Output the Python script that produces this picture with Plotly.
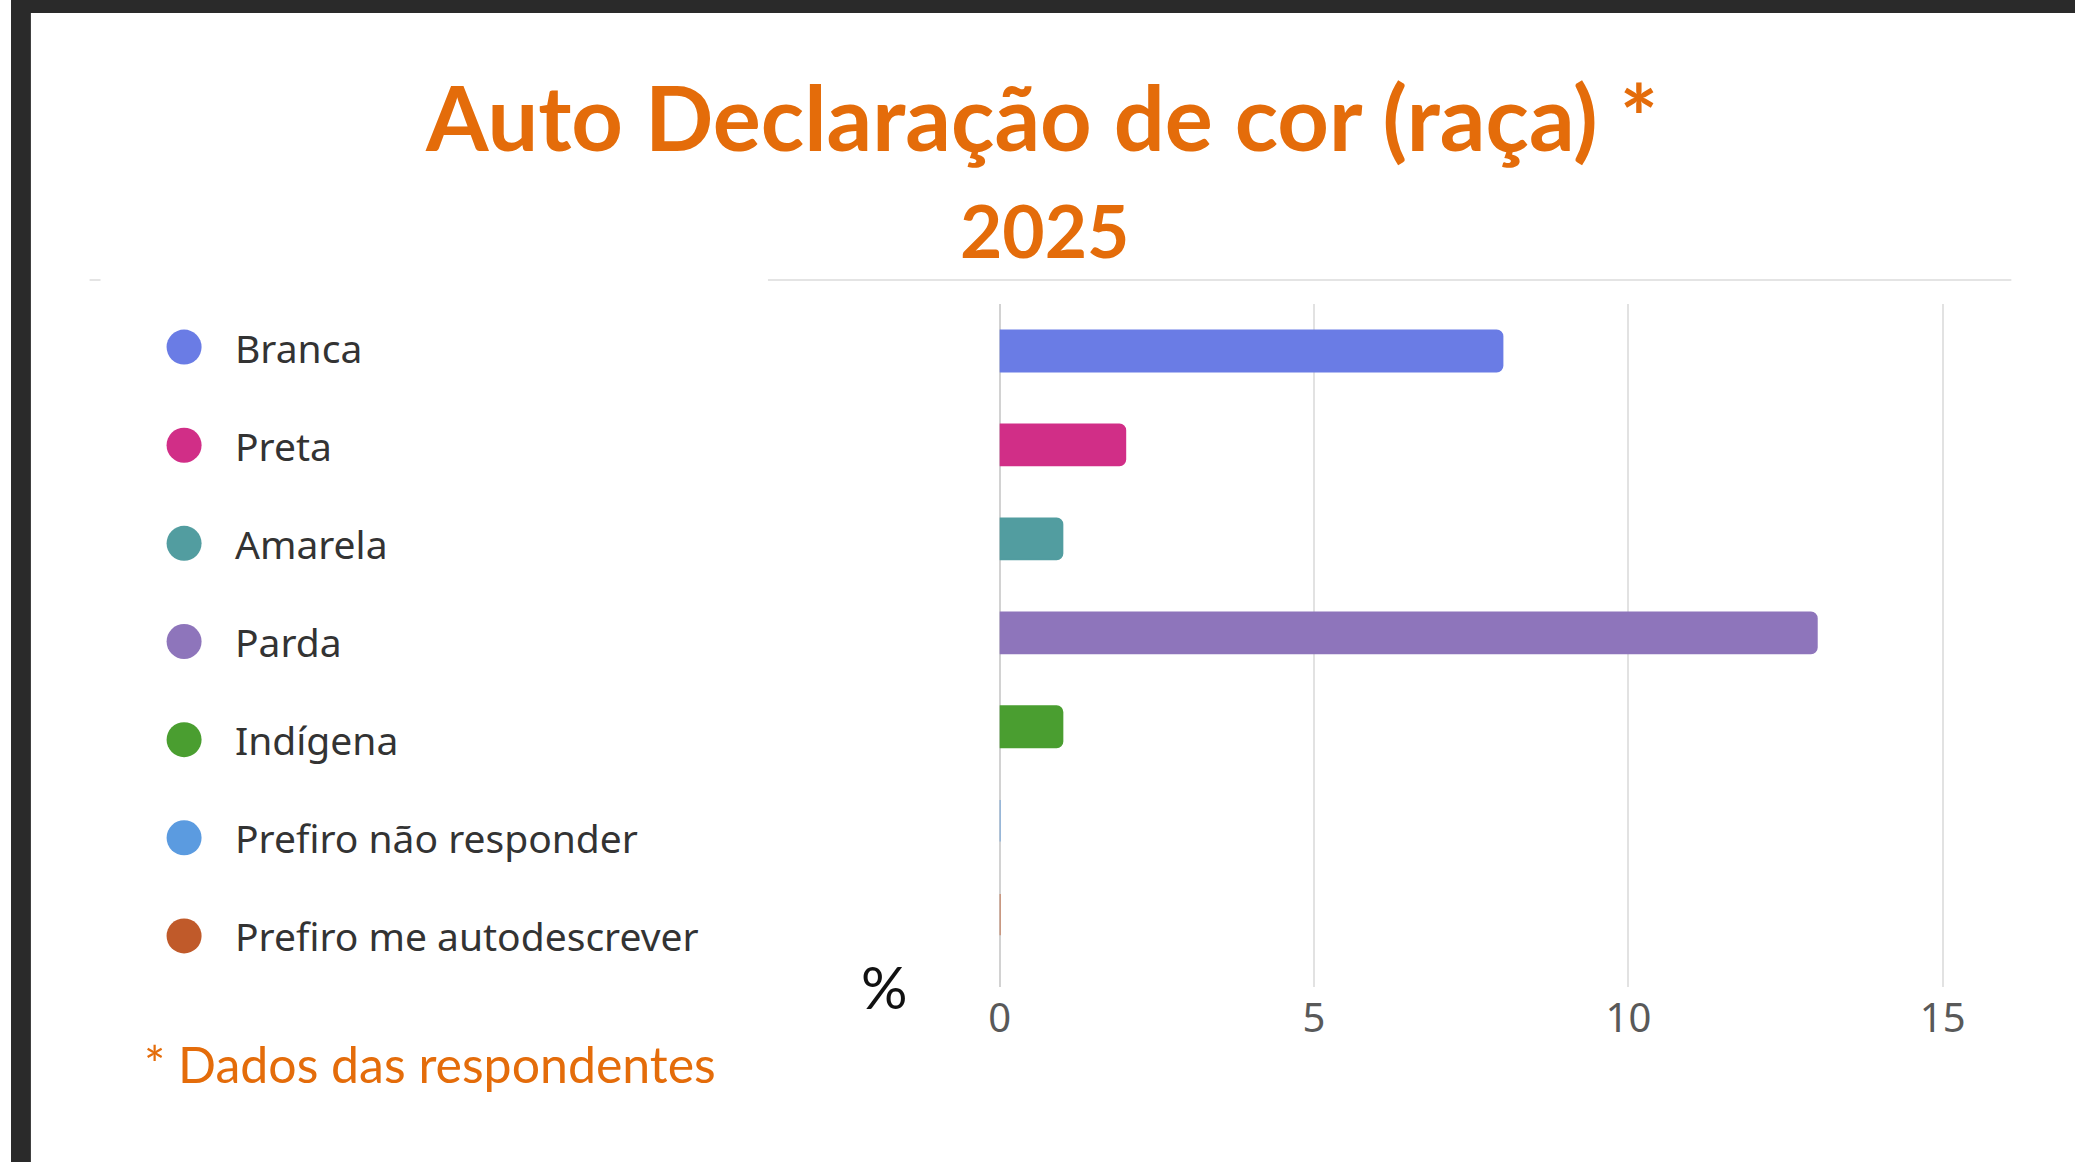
import plotly.graph_objects as go

categories = ["Branca", "Preta", "Amarela", "Parda", "Indígena",
              "Prefiro não responder", "Prefiro me autodescrever"]
values = [8, 2, 1, 13, 1, 0, 0]
colors = ["#6A7CE5", "#D12E87", "#529DA0", "#8E75BB", "#4A9E30",
          "#5B9BE0", "#C05A2A"]
tick_vals = [0, 5, 10, 15]
tick_text = ["0", "5", "10", "15"]

W, H = 2075, 1162
ORANGE = "#E46C0A"

def px(x):
    return x / W

def py(y):
    return 1 - y / H

fig = go.Figure()

fig.add_trace(go.Bar(
    x=values, y=categories, orientation="h",
    marker=dict(color=colors, line=dict(color=colors, width=1.5), cornerradius=6),
    width=0.44, xaxis="x", yaxis="y", showlegend=False, hoverinfo="x+y",
))

fig.add_trace(go.Scatter(
    x=[0] * len(categories), y=categories, mode="markers",
    marker=dict(color=colors, size=35, symbol="circle"),
    xaxis="x2", yaxis="y2", showlegend=False, hoverinfo="skip",
))

annotations = []
for c in categories:
    annotations.append(dict(
        x=0, y=c, xref="x2", yref="y2", text=c, showarrow=False,
        xanchor="left", yanchor="middle", xshift=49,
        font=dict(family="Noto Sans", size=39, color="#333333"),
    ))

annotations += [
    dict(x=px(1036), y=py(116), xref="paper", yref="paper",
         text="<b>Auto Declaração de cor (raça) *</b>", showarrow=False,
         xanchor="center", yanchor="middle",
         font=dict(family="Lato", size=90, color=ORANGE)),
    dict(x=px(1039), y=py(230), xref="paper", yref="paper",
         text="<b>2025</b>", showarrow=False,
         xanchor="center", yanchor="middle",
         font=dict(family="Lato", size=73, color=ORANGE)),
    dict(x=px(132), y=py(1064), xref="paper", yref="paper",
         text="* Dados das respondentes", showarrow=False,
         xanchor="left", yanchor="middle",
         font=dict(family="Lato", size=50, color=ORANGE)),
    dict(x=px(878), y=py(986), xref="paper", yref="paper",
         text="%", showarrow=False,
         xanchor="center", yanchor="middle",
         font=dict(family="Lato", size=58, color="#111111")),
]

shapes = [
    dict(type="rect", xref="paper", yref="paper", x0=0, x1=px(20), y0=0, y1=1,
         fillcolor="#2A2A2A", line=dict(width=0), layer="above"),
    dict(type="rect", xref="paper", yref="paper", x0=0, x1=1, y0=py(13), y1=1,
         fillcolor="#2A2A2A", line=dict(width=0), layer="above"),
    dict(type="line", xref="paper", yref="paper", x0=px(79), x1=px(90),
         y0=py(280), y1=py(280), line=dict(color="#E4E4E4", width=2)),
    dict(type="line", xref="paper", yref="paper", x0=px(761), x1=px(2011),
         y0=py(280), y1=py(280), line=dict(color="#E4E4E4", width=2)),
]

x0px, unit = 994, 63.2
xmax = 15.5
leg_right = 820
fig.update_layout(
    width=W, height=H,
    margin=dict(l=0, r=0, t=0, b=0),
    paper_bgcolor="white", plot_bgcolor="rgba(0,0,0,0)",
    xaxis=dict(domain=[px(x0px), px(x0px + xmax * unit)], range=[0, xmax],
               tickvals=tick_vals, ticktext=tick_text, showgrid=True,
               gridcolor="#E2E2E2", gridwidth=2, zeroline=True,
               zerolinecolor="#D2D2D2", zerolinewidth=2, showline=False,
               ticks="", ticklabelstandoff=4,
               tickfont=dict(family="Noto Sans", size=40, color="#595959"),
               fixedrange=True),
    yaxis=dict(domain=[py(987), py(304)], range=[6.77, -0.5], type="category",
               showticklabels=False, showgrid=False, zeroline=False, ticks="",
               fixedrange=True),
    xaxis2=dict(domain=[0, px(leg_right)], range=[-174, leg_right - 174], visible=False,
                anchor="y2", fixedrange=True),
    yaxis2=dict(domain=[py(985), py(298)], range=[6.5, -0.5], type="category",
                visible=False, anchor="x2", fixedrange=True),
    annotations=annotations, shapes=shapes,
)

fig.write_html(
    "out.html",
    config={"displayModeBar": False},
    post_script="document.documentElement.style.margin='0';document.body.style.margin='0';document.body.style.overflow='hidden';",
)
